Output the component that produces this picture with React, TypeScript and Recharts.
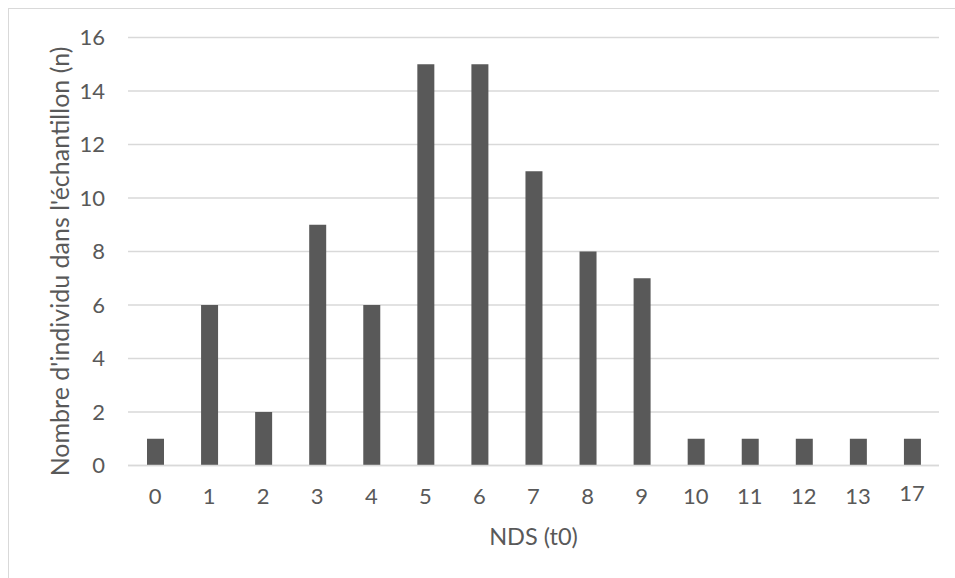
import React from 'react';
import { BarChart, Bar, XAxis, YAxis, CartesianGrid } from 'recharts';

// NDS (t0) categories and counts
const categories = ['0', '1', '2', '3', '4', '5', '6', '7', '8', '9', '10', '11', '12', '13', '17'];
const counts = [1, 6, 2, 9, 6, 15, 15, 11, 8, 7, 1, 1, 1, 1, 1];
const yTicks = [0, 2, 4, 6, 8, 10, 12, 14, 16];

const data = categories.map((c, i) => ({ nds: c, n: counts[i] }));

const textColor = '#595959';
const gridColor = '#d9d9d9';
const font = 'Lato, sans-serif';
const fs = 22;

function XTick(props: any) {
  const { x, y, payload } = props;
  // the last label sits a touch higher in the original
  const shift = payload.value === '17' ? -3 : 0;
  return (
    <text
      x={x}
      y={y + shift}
      dy="0.72em"
      textAnchor="middle"
      fill={textColor}
      fontSize={fs}
      fontFamily={font}
    >
      {payload.value}
    </text>
  );
}

function YTitle(props: any) {
  const { viewBox } = props;
  const cx = viewBox.x + 49.5;
  const cy = viewBox.y + viewBox.height / 2 + 10;
  return (
    <text
      x={cx}
      y={cy}
      transform={`rotate(-90 ${cx} ${cy})`}
      textAnchor="middle"
      dominantBaseline="central"
      fill={textColor}
      fontSize={25}
      fontFamily={font}
    >
      Nombre d'individu dans l'échantillon (n)
    </text>
  );
}

export default function App() {
  return (
    <div
      style={{
        position: 'fixed',
        left: 8,
        top: 8,
        width: 946,
        height: 570,
        borderLeft: `1px solid ${gridColor}`,
        borderTop: `1px solid ${gridColor}`,
        background: '#fff',
      }}
    >
      <BarChart
        width={946}
        height={569}
        data={data}
        margin={{ top: 28.5, right: 16, left: 0, bottom: 17.5 }}
        barSize={17}
      >
        <CartesianGrid vertical={false} stroke={gridColor} strokeWidth={1.4} />
        <XAxis
          dataKey="nds"
          height={95}
          tickLine={false}
          tickSize={0}
          tickMargin={23}
          axisLine={{ stroke: gridColor, strokeWidth: 1.6 }}
          tick={<XTick />}
          interval={0}
          label={{
            value: 'NDS (t0)',
            position: 'insideBottom',
            offset: 16,
            fill: textColor,
            fontSize: 23.5,
            fontFamily: font,
          }}
        />
        <YAxis
          width={119}
          domain={[0, 16]}
          ticks={yTicks}
          axisLine={false}
          tickLine={false}
          tickSize={0}
          tickMargin={23}
          tick={{ fill: textColor, fontSize: fs, fontFamily: font }}
          label={<YTitle />}
        />
        <Bar dataKey="n" fill="#595959" isAnimationActive={false} />
      </BarChart>
    </div>
  );
}
